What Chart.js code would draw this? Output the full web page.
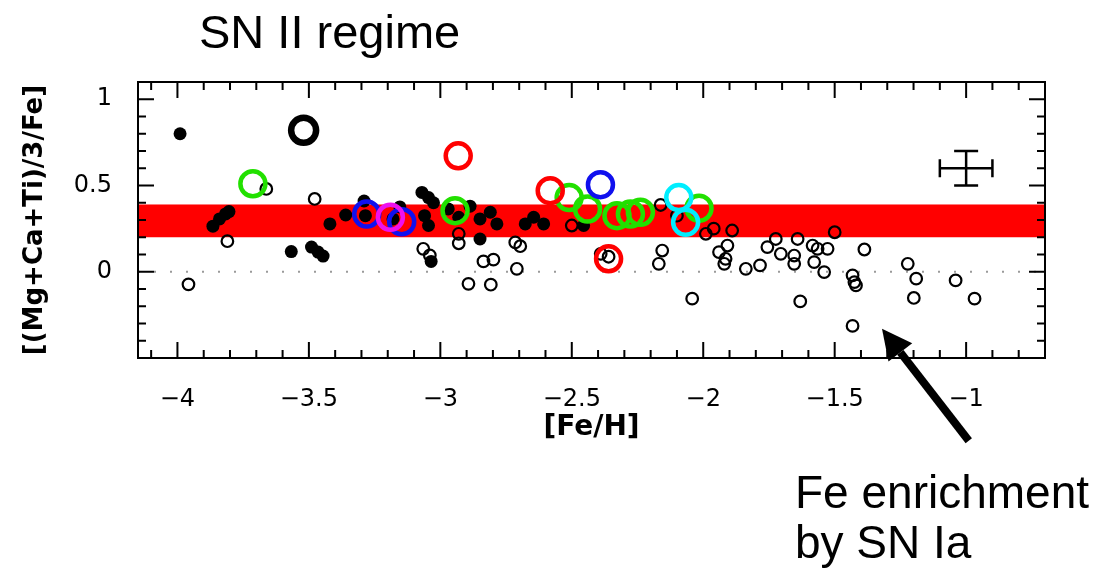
<!DOCTYPE html>
<html>
<head>
<meta charset="utf-8">
<script src="https://cdn.jsdelivr.net/npm/chart.js@4.4.1/dist/chart.umd.min.js"></script>
<style>
  html, body { margin: 0; padding: 0; background: #fff; }
  #chart { display: block; }
</style>
</head>
<body>
<canvas id="chart" width="1106" height="568"></canvas>
<script>
// axis ranges and labelled ticks
const X_MIN = -4.15, X_MAX = -0.7;
const Y_MIN = -0.5, Y_MAX = 1.1;
const X_LABELS = [-4, -3.5, -3, -2.5, -2, -1.5, -1];
const Y_LABELS = [0, 0.5, 1];

// SN II plateau band, typical error bar, arrow (data units)
const BAND = [0.2, 0.39];
const ERR_AT = [-1.0, 0.6];
const ERR_SIZE = [0.1, 0.1];
const ARROW_FROM = [-0.99, -0.98];
const ARROW_TO = [-1.32, -0.33];

// filled black dots
const filledFeH = [-3.99, -3.865, -3.84, -3.817, -3.804, -3.567, -3.49, -3.465, -3.446, -3.42,
  -3.36, -3.29, -3.285, -3.18, -3.154, -3.07, -3.06, -3.045, -3.045, -3.035, -3.026,
  -2.97, -2.93, -2.887, -2.849, -2.849, -2.81, -2.785, -2.677, -2.645, -2.607, -2.455];
const filledRatio = [0.80, 0.264, 0.306, 0.335, 0.349, 0.117, 0.143, 0.114, 0.091, 0.277,
  0.329, 0.41, 0.325, 0.306, 0.376, 0.46, 0.325, 0.43, 0.268, 0.06, 0.40,
  0.364, 0.316, 0.38, 0.306, 0.19, 0.345, 0.277, 0.277, 0.316, 0.277, 0.268];

// small open circles
const openFeH = [-3.958, -3.81, -3.662, -3.478, -3.065, -3.04, -2.93, -2.93, -2.893, -2.836,
  -2.808, -2.798, -2.715, -2.709, -2.696, -2.5, -2.39, -2.36, -2.169, -2.162, -2.156,
  -2.1, -2.042, -1.99, -1.96, -1.94, -1.92, -1.915, -1.908, -1.89, -1.838, -1.784,
  -1.756, -1.724, -1.705, -1.654, -1.654, -1.641, -1.631, -1.584, -1.578, -1.565,
  -1.54, -1.527, -1.5, -1.432, -1.432, -1.425, -1.419, -1.387, -1.222, -1.199, -1.19,
  -1.04, -0.968];
const openRatio = [-0.073, 0.177, 0.48, 0.422, 0.133, 0.095, 0.22, 0.165, -0.07, 0.06,
  -0.075, 0.07, 0.17, 0.017, 0.148, 0.268, 0.104, 0.087, 0.046, 0.387, 0.123,
  0.325, -0.156, 0.22, 0.25, 0.114, 0.046, 0.075, 0.152, 0.239, 0.017, 0.037,
  0.143, 0.19, 0.104, 0.094, 0.046, 0.19, -0.172, 0.152, 0.056, 0.133,
  -0.002, 0.133, 0.229, -0.021, -0.314, -0.06, -0.079, 0.129, 0.046, -0.152, -0.04,
  -0.05, -0.156];

// large highlighted stars
const greenFeH = [-3.713, -2.944, -2.51, -2.44, -2.328, -2.277, -2.239, -2.016];
const greenRatio = [0.51, 0.354, 0.43, 0.364, 0.325, 0.335, 0.345, 0.368];
const redFeH = [-2.932, -2.582, -2.36];
const redRatio = [0.672, 0.47, 0.075];
const blueFeH = [-3.28, -3.147, -2.391];
const blueRatio = [0.335, 0.29, 0.505];
const magentaFeH = [-3.19];
const magentaRatio = [0.316];
const cyanFeH = [-2.093, -2.067];
const cyanRatio = [0.43, 0.287];
const blackBigFeH = [-3.52];
const blackBigRatio = [0.82];

const pts = (xs, ys) => xs.map((x, i) => ({ x, y: ys[i] }));
const minus = v => (v < 0 ? '\u2212' : '') + Math.abs(v);

function bigRing(data, color, order, width) {
  return {
    data, order,
    backgroundColor: 'rgba(0,0,0,0)',
    borderColor: color,
    borderWidth: width || 4.5,
    pointRadius: 12.5
  };
}

const decor = {
  id: 'decor',
  beforeDatasetsDraw(chart) {
    const { ctx, chartArea: a, scales: { y } } = chart;
    const top = y.getPixelForValue(BAND[1]);
    const bot = y.getPixelForValue(BAND[0]);
    ctx.save();
    ctx.fillStyle = '#ff0000';
    ctx.fillRect(a.left, top, a.right - a.left, bot - top);
    ctx.restore();
  },
  afterDatasetsDraw(chart) {
    const { ctx, chartArea: a, scales: { x, y } } = chart;
    ctx.save();
    ctx.strokeStyle = '#000';
    ctx.lineWidth = 2;
    ctx.strokeRect(a.left, a.top, a.right - a.left, a.bottom - a.top);

    // inward ticks on all four sides, every 0.1, longer every 0.5
    ctx.beginPath();
    for (let i = Math.ceil(X_MIN * 10 - 1e-6); i <= Math.floor(X_MAX * 10 + 1e-6); i++) {
      const px = x.getPixelForValue(i / 10);
      if (px <= a.left + 2 || px >= a.right - 2) continue;
      const len = i % 5 === 0 ? 16 : 8;
      ctx.moveTo(px, a.bottom); ctx.lineTo(px, a.bottom - len);
      ctx.moveTo(px, a.top); ctx.lineTo(px, a.top + len);
    }
    for (let i = Math.ceil(Y_MIN * 10 - 1e-6); i <= Math.floor(Y_MAX * 10 + 1e-6); i++) {
      const py = y.getPixelForValue(i / 10);
      if (py <= a.top + 2 || py >= a.bottom - 2) continue;
      const len = i % 5 === 0 ? 16 : 8;
      ctx.moveTo(a.left, py); ctx.lineTo(a.left + len, py);
      ctx.moveTo(a.right, py); ctx.lineTo(a.right - len, py);
    }
    ctx.stroke();

    // typical error bar
    const cx = x.getPixelForValue(ERR_AT[0]), cy = y.getPixelForValue(ERR_AT[1]);
    const x0 = x.getPixelForValue(ERR_AT[0] - ERR_SIZE[0]);
    const x1 = x.getPixelForValue(ERR_AT[0] + ERR_SIZE[0]);
    const y0 = y.getPixelForValue(ERR_AT[1] + ERR_SIZE[1]);
    const y1 = y.getPixelForValue(ERR_AT[1] - ERR_SIZE[1]);
    ctx.lineWidth = 2.5;
    ctx.beginPath();
    ctx.moveTo(x0, cy); ctx.lineTo(x1, cy);
    ctx.moveTo(cx, y0); ctx.lineTo(cx, y1);
    ctx.moveTo(x0, cy - 9); ctx.lineTo(x0, cy + 9);
    ctx.moveTo(x1, cy - 9); ctx.lineTo(x1, cy + 9);
    ctx.moveTo(cx - 12, y0); ctx.lineTo(cx + 12, y0);
    ctx.moveTo(cx - 12, y1); ctx.lineTo(cx + 12, y1);
    ctx.stroke();
    ctx.restore();
  },
  afterDraw(chart) {
    const { ctx, scales: { x, y } } = chart;
    const ax = x.getPixelForValue(ARROW_FROM[0]), ay = y.getPixelForValue(ARROW_FROM[1]);
    const bx = x.getPixelForValue(ARROW_TO[0]), by = y.getPixelForValue(ARROW_TO[1]);
    const ang = Math.atan2(by - ay, bx - ax);
    const head = 30, half = 15;
    const hx = bx - head * Math.cos(ang), hy = by - head * Math.sin(ang);
    ctx.save();
    ctx.strokeStyle = '#000';
    ctx.fillStyle = '#000';
    ctx.lineWidth = 8;
    ctx.beginPath();
    ctx.moveTo(ax, ay); ctx.lineTo(hx, hy);
    ctx.stroke();
    ctx.beginPath();
    ctx.moveTo(bx, by);
    ctx.lineTo(hx + half * Math.sin(ang), hy - half * Math.cos(ang));
    ctx.lineTo(hx - half * Math.sin(ang), hy + half * Math.cos(ang));
    ctx.closePath();
    ctx.fill();

    ctx.textAlign = 'left';
    ctx.textBaseline = 'alphabetic';
    ctx.font = '47px "Liberation Sans", Arial, sans-serif';
    ctx.fillText('SN II regime', 199, 48);
    ctx.font = '46px "Liberation Sans", Arial, sans-serif';
    ctx.fillText('Fe enrichment', 795, 508);
    ctx.fillText('by SN Ia', 795, 558);
    ctx.restore();
  }
};

const tickFont = { family: 'DejaVu Sans', size: 24 };

new Chart(document.getElementById('chart'), {
  type: 'scatter',
  data: {
    datasets: [
      {
        type: 'line',
        data: [{ x: X_MIN, y: 0 }, { x: X_MAX, y: 0 }],
        borderColor: '#9a9a9a',
        borderWidth: 2,
        borderDash: [2, 14],
        pointRadius: 0,
        order: 10
      },
      {
        data: pts(filledFeH, filledRatio),
        backgroundColor: '#000',
        borderColor: '#000',
        borderWidth: 0,
        pointRadius: 6.5,
        order: 6
      },
      {
        data: pts(openFeH, openRatio),
        backgroundColor: 'rgba(0,0,0,0)',
        borderColor: '#000',
        borderWidth: 2.2,
        pointRadius: 5.8,
        order: 5
      },
      bigRing(pts(greenFeH, greenRatio), '#22e000', 4),
      bigRing(pts(redFeH, redRatio), '#ff0000', 3),
      bigRing(pts(blueFeH, blueRatio), '#1010ee', 2),
      bigRing(pts(magentaFeH, magentaRatio), '#ee10ee', 1),
      bigRing(pts(cyanFeH, cyanRatio), '#00eeff', 1),
      bigRing(pts(blackBigFeH, blackBigRatio), '#000', 1, 6.5)
    ]
  },
  options: {
    responsive: false,
    animation: false,
    layout: { padding: { left: 0, right: 61, top: 82, bottom: 110 } },
    plugins: {
      legend: { display: false },
      tooltip: { enabled: false }
    },
    scales: {
      x: {
        type: 'linear',
        min: X_MIN,
        max: X_MAX,
        grid: { display: false },
        border: { display: false },
        afterBuildTicks: s => { s.ticks = X_LABELS.map(v => ({ value: v })); },
        afterFit: s => { s.height = 100; },
        ticks: {
          padding: 19,
          color: '#000',
          font: tickFont,
          maxRotation: 0,
          autoSkip: false,
          callback: v => minus(v)
        },
        title: {
          display: true,
          text: '[Fe/H]',
          color: '#000',
          font: { family: 'DejaVu Sans', size: 28, weight: 'bold' },
          padding: { top: 0, bottom: 13 }
        }
      },
      y: {
        type: 'linear',
        min: Y_MIN,
        max: Y_MAX,
        grid: { display: false },
        border: { display: false },
        afterBuildTicks: s => { s.ticks = Y_LABELS.map(v => ({ value: v })); },
        afterFit: s => { s.width = 138; },
        ticks: {
          padding: 18,
          color: '#000',
          font: tickFont,
          callback: v => minus(v)
        },
        title: {
          display: true,
          text: '[(Mg+Ca+Ti)/3/Fe]',
          color: '#000',
          font: { family: 'DejaVu Sans', size: 26, weight: 'bold' },
          padding: { top: 20, bottom: 0 }
        }
      }
    }
  },
  plugins: [decor]
});
</script>
</body>
</html>
